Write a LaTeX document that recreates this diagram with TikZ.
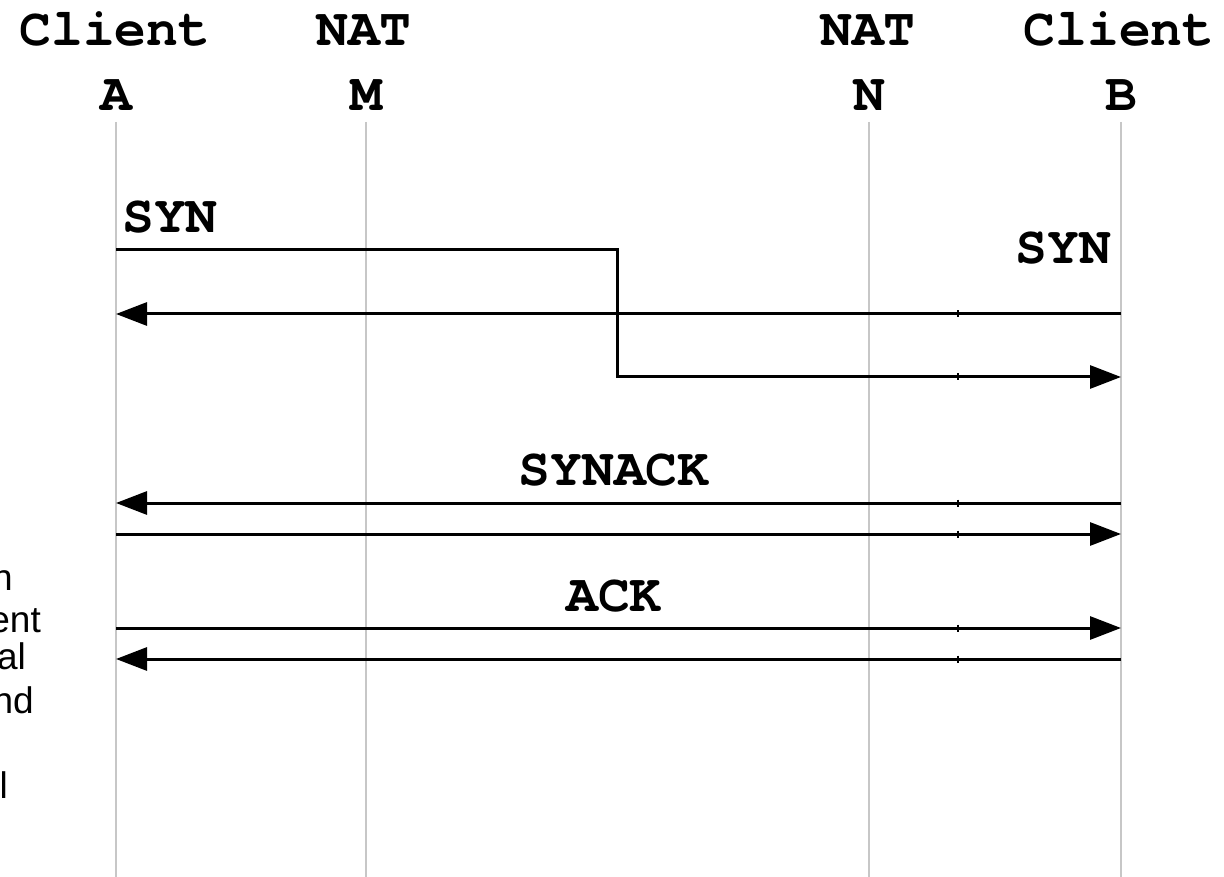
\documentclass[tikz,border=0pt]{standalone}
\usepackage{fontspec}
\setmainfont{Liberation Sans}
\newfontfamily\monob{texgyrecursor-bold.otf}
\usetikzlibrary{arrows.meta}
\begin{document}
\begin{tikzpicture}[x=1pt,y=-1pt,
  lifeline/.style={draw=black!22,line width=2.6pt},
  hdr/.style={font=\fontsize{53}{60}\selectfont\monob,anchor=base,inner sep=0pt},
  msglabel/.style={font=\fontsize{53}{60}\selectfont\monob,inner sep=0pt},
  msg/.style={draw=black,line width=3pt,line join=miter},
  arr/.style={msg,-{Triangle[length=31pt,width=23pt]}},
  tick/.style={draw=black,line width=1.2pt},
  side/.style={font=\fontsize{37}{42}\selectfont,anchor=base east,inner sep=0pt}]
\useasboundingbox (0,0) rectangle (1224,877);
\clip (0,0) rectangle (1224,877);
% lifeline ends
\coordinate (At) at (116,122); \coordinate (Ab) at (116,877);
\coordinate (Mt) at (366,122); \coordinate (Mb) at (366,877);
\coordinate (Nt) at (869,122); \coordinate (Nb) at (869,877);
\coordinate (Bt) at (1121,122); \coordinate (Bb) at (1121,877);
\draw[lifeline] (At) -- (Ab);
\draw[lifeline] (Mt) -- (Mb);
\draw[lifeline] (Nt) -- (Nb);
\draw[lifeline] (Bt) -- (Bb);
% headers
\node[hdr] (hA1) at (115,46) {Client};
\node[hdr] (hA2) at (116,111) {A};
\node[hdr] (hM1) at (364,46) {NAT};
\node[hdr] (hM2) at (366,111) {M};
\node[hdr] (hN1) at (868,46) {NAT};
\node[hdr] (hN2) at (869,111) {N};
\node[hdr] (hB1) at (1119,46) {Client};
\node[hdr] (hB2) at (1121,111) {B};
% message points
\coordinate (A250) at (116,250);
\coordinate (K250) at (617,250);
\coordinate (K377) at (617,377);
\coordinate (B377) at (1121,377);
\coordinate (B314) at (1121,314); \coordinate (A314) at (116,314);
\coordinate (B503) at (1121,503); \coordinate (A503) at (116,503);
\coordinate (A534) at (116,534); \coordinate (B534) at (1121,534);
\coordinate (A628) at (116,628); \coordinate (B628) at (1121,628);
\coordinate (B659) at (1121,659); \coordinate (A659) at (116,659);
% messages
\draw[arr] (A250) -- (K250) -- (K377) -- (B377);
\draw[arr] (B314) -- (A314);
\draw[arr] (B503) -- (A503);
\draw[arr] (A534) -- (B534);
\draw[arr] (A628) -- (B628);
\draw[arr] (B659) -- (A659);
% small ticks
\foreach \yy in {314,377,503,534,628,659}{
  \draw[tick] (958,\yy-3.5) -- (958,\yy+3.5);
}
% labels
\node[msglabel,anchor=base west] (lsyn1) at (122,233) {SYN};
\node[msglabel,anchor=base east] (lsyn2) at (1111,264) {SYN};
\node[msglabel,anchor=base] (lsynack) at (614,485) {SYNACK};
\node[msglabel,anchor=base] (lack) at (614,611) {ACK};
% cut-off side text
\node[side] (s1) at (13,590) {n};
\node[side] (s2) at (41,632) {ent};
\node[side] (s3) at (26,669) {al};
\node[side] (s4) at (34,713) {nd};
\node[side] (s5) at (8,798) {l};
\end{tikzpicture}
\end{document}
